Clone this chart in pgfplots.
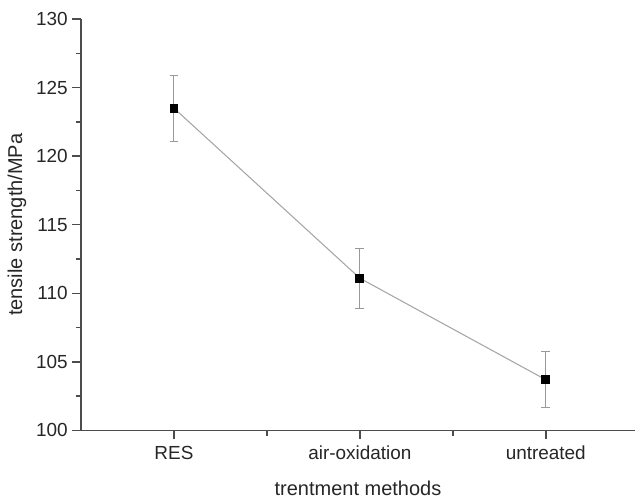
\documentclass[border=0pt]{standalone}
\usepackage{fontspec}
\setmainfont{Liberation Sans}
\usepackage{pgfplots}
\pgfplotsset{compat=1.18}
\begin{document}
\begin{tikzpicture}
\begin{axis}[
  name=ax,
  scale only axis,
  width=415.5pt, height=308.6pt,
  xmin=0.5, xmax=3.48,
  ymin=100, ymax=130,
  axis x line*=bottom, axis y line*=left,
  xtick={1,2,3}, xticklabels={RES, air-oxidation, untreated},
  minor xtick={1.5,2.5},
  ytick={100,105,...,130},
  minor ytick={102.5,107.5,...,127.5},
  tick align=outside,
  major tick length=6.5pt, minor tick length=4pt,
  /pgf/number format/assume math mode=true,
  ticklabel style={font=\fontsize{14.2}{17}\selectfont, text=black!85},
  xticklabel style={yshift=-1.5pt},
  xlabel={trentment methods}, ylabel={tensile strength/MPa},
  label style={font=\fontsize{15}{18}\selectfont, text=black!85},
  xlabel style={at={(axis description cs:0.5,-0.158)}, anchor=base, inner sep=0pt},
  ylabel style={at={(axis description cs:-0.1155,0.5)}, anchor=center},
  axis line style={line width=1.3pt, black!70},
  every tick/.style={line width=1.1pt, black!70},
  clip=false,
]
\addplot[gray!70, line width=0.8pt, mark=square*, mark size=2.9pt,
  mark options={black, solid},
  error bars/.cd, y dir=both, y explicit,
  error bar style={gray!80, line width=0.8pt},
  error mark options={rotate=90, mark size=3.3pt, gray!80, line width=0.8pt}]
 coordinates {
  (1,123.5) +- (0,2.4)
  (2,111.1) +- (0,2.2)
  (3,103.7) +- (0,2.05)
 };
\end{axis}
\pgfresetboundingbox
\path ([xshift=-60.75pt,yshift=-52.1pt]ax.south west) rectangle ([yshift=14.25pt]ax.north east);
\end{tikzpicture}
\end{document}
